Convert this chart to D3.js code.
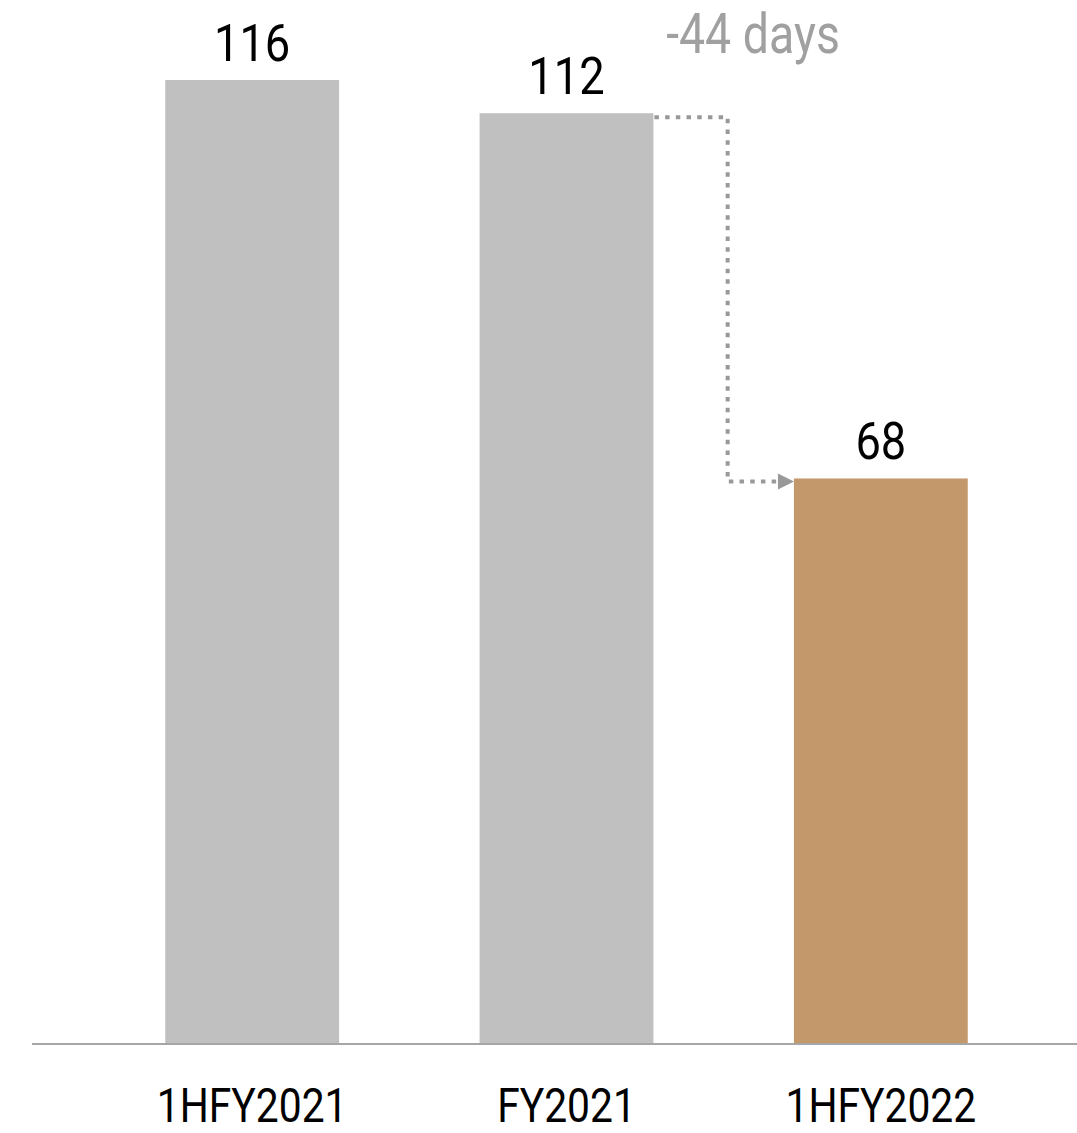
<!DOCTYPE html>
<html>
<head>
<meta charset="utf-8">
<script src="https://cdn.jsdelivr.net/npm/d3@7"></script>
<style>
  html, body { margin: 0; padding: 0; background: #fff; }
  svg { display: block; }
  text { font-family: Roboto, "Liberation Sans", sans-serif; }
</style>
</head>
<body>
<svg id="chart" width="1077" height="1133"></svg>
<script>
// Days figures per reporting period
const periods = ["1HFY2021", "FY2021", "1HFY2022"];
const days = [116, 112, 68];
const barColors = ["#c0c0c0", "#c0c0c0", "#c3986b"];
const changeLabel = "-44 days";

const W = 1077, H = 1133;
const baseY = 1043;
const svg = d3.select("#chart");

const x = d3.scaleBand()
  .domain(periods)
  .range([95, 1038])
  .paddingInner(0.447)
  .paddingOuter(0.2235);

const y = d3.scaleLinear()
  .domain([0, 116])
  .range([baseY, 80]);

// Condensed look: squeeze text horizontally around its anchor
function condensedText(sel, px, py, str, size, color, sx) {
  const g = sel.append("g").attr("transform", `translate(${px},${py}) scale(${sx},1)`);
  g.append("text")
    .attr("x", 0).attr("y", 0)
    .attr("text-anchor", "middle")
    .attr("font-size", size)
    .attr("fill", color)
    .text(str);
  return g;
}

// Bars
svg.append("g").selectAll("rect")
  .data(periods)
  .join("rect")
  .attr("x", d => x(d))
  .attr("y", (d, i) => y(days[i]))
  .attr("width", x.bandwidth())
  .attr("height", (d, i) => y(0) - y(days[i]))
  .attr("fill", (d, i) => barColors[i]);

// Baseline
svg.append("line")
  .attr("x1", 32).attr("x2", W)
  .attr("y1", baseY + 1).attr("y2", baseY + 1)
  .attr("stroke", "#a6a6a6")
  .attr("stroke-width", 2);

// Value labels above bars
periods.forEach((p, i) => {
  condensedText(svg, x(p) + x.bandwidth() / 2, y(days[i]) - 19, String(days[i]), 52, "#000", 0.87);
});

// Category labels
periods.forEach(p => {
  condensedText(svg, x(p) + x.bandwidth() / 2, 1122, p, 48, "#000", 0.85);
});

// Dotted connector from FY2021 down to 1HFY2022
const x0 = x("FY2021") + x.bandwidth() + 1;
const xTip = x("1HFY2022");
const xMid = (x("FY2021") + x.bandwidth() + xTip) / 2 + 4;
const yStart = y(days[1]) + 4;
const yEnd = y(days[2]) + 3;
const arrowLen = 16;

svg.append("path")
  .attr("d", `M${x0},${yStart} H${xMid} V${yEnd} H${xTip - arrowLen}`)
  .attr("fill", "none")
  .attr("stroke", "#999999")
  .attr("stroke-width", 4)
  .attr("stroke-dasharray", "4.5 6.2");

svg.append("path")
  .attr("d", `M${xTip - arrowLen},${yEnd - 8} L${xTip},${yEnd} L${xTip - arrowLen},${yEnd + 8} Z`)
  .attr("fill", "#999999");

// Change annotation
condensedText(svg, 753, 53, changeLabel, 56, "#a0a0a0", 0.83);
</script>
</body>
</html>
